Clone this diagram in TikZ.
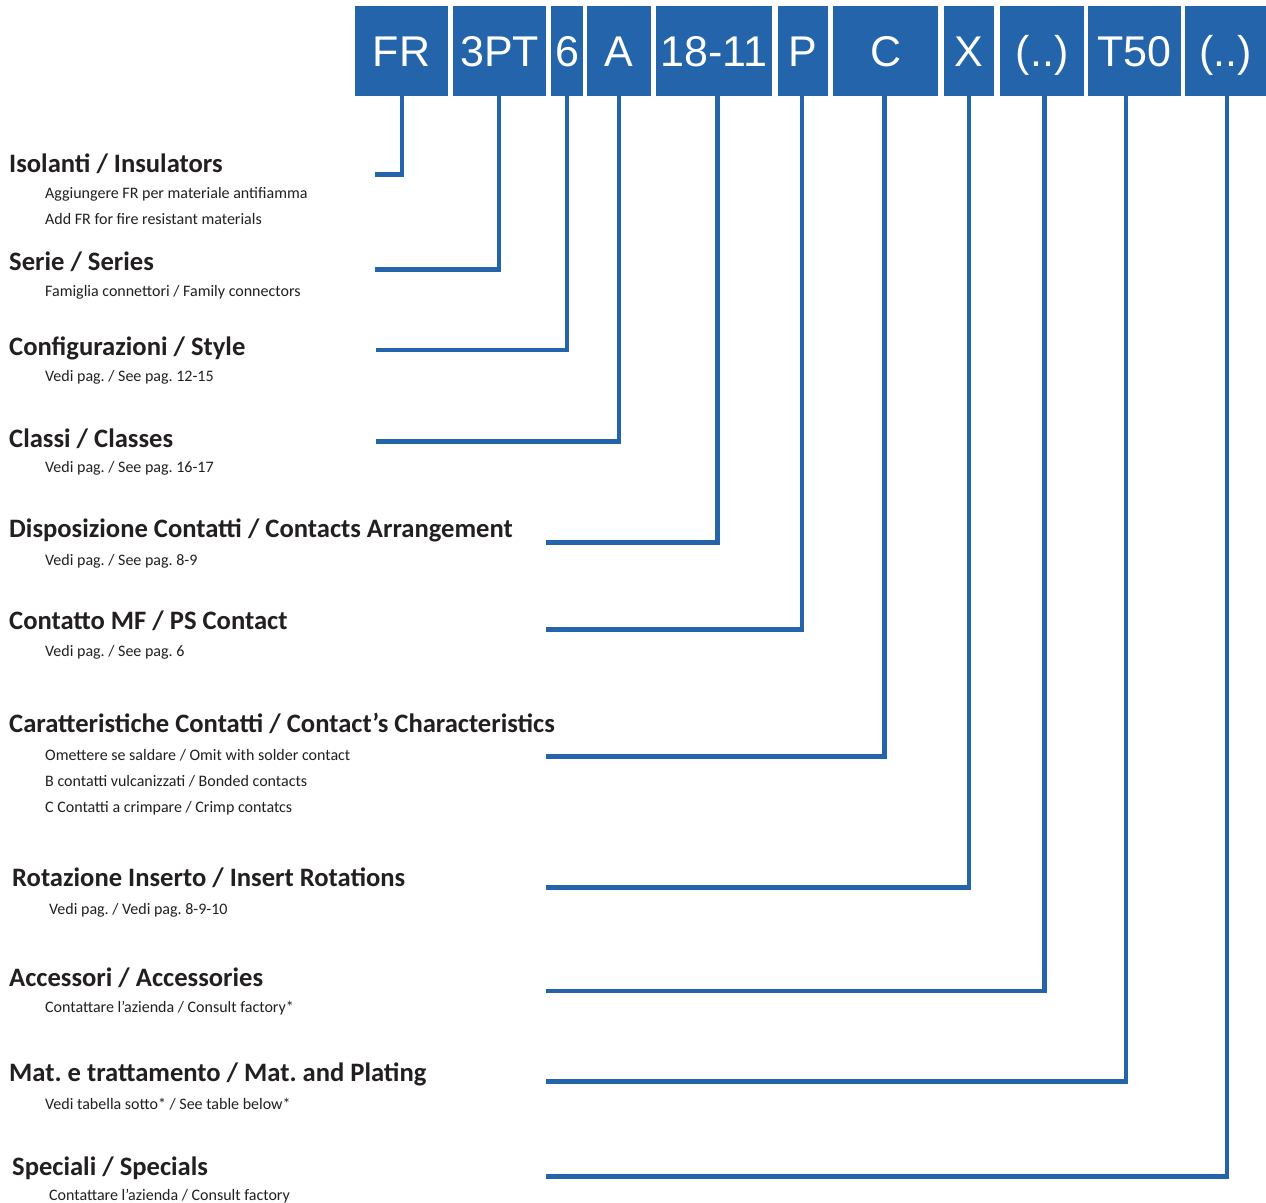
\documentclass[tikz,border=0pt]{standalone}
\usepackage{fontspec}
\setmainfont{Carlito}
\newfontfamily\boxfont{Liberation Sans}
\definecolor{cblue}{HTML}{2364AA}
\definecolor{ctext}{HTML}{231F20}
\begin{document}
\frenchspacing
\begin{tikzpicture}[x=1pt,y=-1pt,
 codebox/.style={fill=cblue, text=white, inner sep=0pt, minimum height=89.7pt,
   text height=31.7pt, text depth=0pt, anchor=north west,
   font=\boxfont\fontsize{43}{43}\selectfont},
 head/.style={anchor=base west, inner sep=0pt, text=ctext, yshift=-1pt, font=\bfseries\fontsize{26.6}{30}\selectfont},
 sub/.style={anchor=base west, inner sep=0pt, text=ctext, yshift=-0.8pt, font=\fontsize{16}{19}\selectfont},
 conn/.style={draw=cblue, line width=4.5pt, line join=miter, line cap=butt}]

\useasboundingbox[fill=white] (0,0) rectangle (1266,1202);

% code boxes
\node[codebox, minimum width=92.7pt]  (b1)  at (355,6)  {FR};
\node[codebox, minimum width=92.7pt]  (b2)  at (453,6)  {3PT};
\node[codebox, minimum width=31.7pt]  (b3)  at (551,6)  {6};
\node[codebox, minimum width=64pt]    (b4)  at (587,6)  {A};
\node[codebox, minimum width=115.7pt] (b5)  at (656,6)  {18-11};
\node[codebox, minimum width=49.7pt]  (b6)  at (778,6)  {P};
\node[codebox, minimum width=105pt]   (b7)  at (833,6)  {C};
\node[codebox, minimum width=50pt]    (b8)  at (944,6)  {X};
\node[codebox, minimum width=83.7pt]  (b9)  at (1000,6) {(..)};
\node[codebox, minimum width=92.7pt]  (b10) at (1088,6) {T50};
\node[codebox, minimum width=81pt]    (b11) at (1185,6) {(..)};

% free ends of connectors
\coordinate (e1)  at (375,174.5);
\coordinate (e2)  at (375,269.5);
\coordinate (e3)  at (376,350);
\coordinate (e4)  at (376,441.5);
\coordinate (e5)  at (545.5,542.5);
\coordinate (e6)  at (545.5,629.5);
\coordinate (e7)  at (545.5,756.5);
\coordinate (e8)  at (545.5,887.5);
\coordinate (e9)  at (545.5,991);
\coordinate (e10) at (545.5,1081.5);
\coordinate (e11) at (545.5,1176.5);

% connectors
\draw[conn] ([xshift=0.35pt]b1.south)  |- (e1);
\draw[conn] ([xshift=-0.35pt]b2.south) |- (e2);
\draw[conn] ([xshift=-0.15pt]b3.south) |- (e3);
\draw[conn] ([xshift=-0.3pt]b4.south)  |- (e4);
\draw[conn] ([xshift=3.45pt]b5.south)  |- (e5);
\draw[conn] ([xshift=-0.85pt]b6.south) |- (e6);
\draw[conn] ([xshift=-1.2pt]b7.south)  |- (e7);
\draw[conn] (b8.south)                 |- (e8);
\draw[conn] ([xshift=2.45pt]b9.south)  |- (e9);
\draw[conn] ([xshift=-8.65pt]b10.south) |- (e10);
\draw[conn] ([xshift=1.2pt]b11.south)  |- (e11);

% labels
\node[head] (h1)  at (9,171)    {Isolanti / Insulators};
\node[sub]  (s1a) at (45,197.3) {Aggiungere FR per materiale antifiamma};
\node[sub]  (s1b) at (45,224)   {Add FR for fire resistant materials};

\node[head] (h2)  at (9,269.3)  {Serie / Series};
\node[sub]  (s2)  at (45,296)   {Famiglia connettori / Family connectors};

\node[head] (h3)  at (9,354.3)  {Configurazioni / Style};
\node[sub]  (s3)  at (45,381)   {Vedi pag. / See pag. 12-15};

\node[head] (h4)  at (9,446.7)  {Classi / Classes};
\node[sub]  (s4)  at (45,471.7) {Vedi pag. / See pag. 16-17};

\node[head] (h5)  at (9,536.7)  {Disposizione Contatti / Contacts Arrangement};
\node[sub]  (s5)  at (45,564.3) {Vedi pag. / See pag. 8-9};

\node[head] (h6)  at (9,628.3)  {Contatto MF / PS Contact};
\node[sub]  (s6)  at (45,656)   {Vedi pag. / See pag. 6};

\node[head] (h7)  at (9,731.7)  {Caratteristiche Contatti / Contact’s Characteristics};
\node[sub]  (s7a) at (45,759.3) {Omettere se saldare / Omit with solder contact};
\node[sub]  (s7b) at (45,785.3) {B contatti vulcanizzati / Bonded contacts};
\node[sub]  (s7c) at (45,812)   {C Contatti a crimpare / Crimp contatcs};

\node[head] (h8)  at (12,885)   {Rotazione Inserto / Insert Rotations};
\node[sub]  (s8)  at (49,913.3) {Vedi pag. / Vedi pag. 8-9-10};

\node[head] (h9)  at (9,985)    {Accessori / Accessories};
\node[sub]  (s9)  at (45,1011.5) {Contattare l’azienda / Consult factory*};

\node[head] (h10) at (9,1080)   {Mat. e trattamento / Mat. and Plating};
\node[sub]  (s10) at (45,1108.3) {Vedi tabella sotto* / See table below*};

\node[head] (h11) at (12,1174)  {Speciali / Specials};
\node[sub]  (s11) at (49,1200)  {Contattare l’azienda / Consult factory};
\end{tikzpicture}
\end{document}
